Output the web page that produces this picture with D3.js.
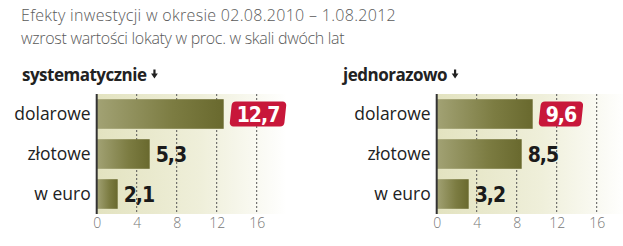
<!DOCTYPE html>
<html><head><meta charset="utf-8">
<script src="https://cdn.jsdelivr.net/npm/d3@7"></script>
<style>
body{margin:0;background:#fff;}
svg{display:block;}
</style></head>
<body>
<svg id="c" width="623" height="246"></svg>
<script>
const titleLines = ["Efekty inwestycji w okresie 02.08.2010 \u2013 1.08.2012", "wzrost warto\u015bci lokaty w proc. w skali dw\u00f3ch lat"];
const categories = ["dolarowe", "z\u0142otowe", "w euro"];
const panelTitles = ["systematycznie", "jednorazowo"];
const systematyczne = [12.7, 5.3, 2.1];
const jednorazowo = [9.6, 8.5, 3.2];
const tickValues = [0, 4, 8, 12, 16];
const seriesList = [systematyczne, jednorazowo];

const svg = d3.select("#c");
const defs = svg.append("defs");
const bg = defs.append("linearGradient").attr("id","bg").attr("x1","0").attr("x2","1").attr("y1","0").attr("y2","0");
bg.append("stop").attr("offset","0").attr("stop-color","#e3e3c0");
bg.append("stop").attr("offset","0.55").attr("stop-color","#efefda");
bg.append("stop").attr("offset","1").attr("stop-color","#ffffff");
const fmt = v => d3.format(".1f")(v).replace(".", ",");
const numFont = "'DejaVu Sans Condensed', 'DejaVu Sans', sans-serif";

svg.selectAll("text.title").data(titleLines).join("text")
  .attr("x", 21).attr("y", (d,i)=>21 + i*23)
  .attr("font-family","'Open Sans', sans-serif").attr("font-weight",300)
  .attr("font-size",16).attr("fill","#5a5a5a").attr("letter-spacing",(d,i)=> i===0 ? "0.3" : "-0.3")
  .text(d=>d);

const panels = [{x0:96.7, tx:22}, {x0:436.7, tx:343}];
panels.forEach((p, pi) => {
  const data = seriesList[pi];
  const x = d3.scaleLinear().domain([0,16]).range([p.x0, p.x0+160]);
  const y = d3.scaleBand().domain(categories).range([94, 214]).paddingInner(0.26).paddingOuter(0.13);
  const g = svg.append("g");
  // panel title
  const t = g.append("text").attr("x", p.tx).attr("y", 80.5)
    .attr("font-family","'Open Sans', sans-serif").attr("font-weight",700)
    .attr("font-size",17).attr("fill","#222").attr("letter-spacing","-0.5")
    .text(panelTitles[pi]);
  const tw = t.node().getComputedTextLength();
  const tx = p.tx + tw + 8;
  g.append("path").attr("d", `M${tx-1.1},69.5 L${tx+1.1},69.5 L${tx+1.1},73.5 L${tx+3.4},73.5 L${tx},78.5 L${tx-3.4},73.5 L${tx-1.1},73.5 Z`).attr("fill","#222");
  // background
  g.append("rect").attr("x", x(0)).attr("y", 94).attr("width", 190).attr("height", 120).attr("fill","url(#bg)");
  // grid
  g.selectAll("line.grid").data(tickValues.filter(d=>d>0)).join("line")
    .attr("x1", d=>x(d)).attr("x2", d=>x(d)).attr("y1", 94).attr("y2", 214)
    .attr("stroke","#555").attr("stroke-width",1).attr("stroke-dasharray","2,2");
  // bars
  g.selectAll("rect.bar").data(data).join("rect")
    .attr("x", x(0)).attr("y", (d,i)=>y(categories[i]))
    .attr("width", d=>x(d)-x(0)).attr("height", y.bandwidth())
    .attr("fill", (d,i)=>{
      const id = `bar${pi}_${i}`;
      const lg = defs.append("linearGradient").attr("id", id).attr("x1","0").attr("x2","1").attr("y1","0").attr("y2","0");
      lg.append("stop").attr("offset","0").attr("stop-color","#a2a274");
      lg.append("stop").attr("offset","0.6").attr("stop-color","#7c7c42");
      lg.append("stop").attr("offset","1").attr("stop-color","#69692e");
      return `url(#${id})`;
    });
  // axis line
  g.append("line").attr("x1", x(0)).attr("x2", x(0)).attr("y1", 94).attr("y2", 214)
    .attr("stroke","#333").attr("stroke-width",2);
  // category labels
  g.selectAll("text.cat").data(categories).join("text")
    .attr("x", x(0) - 6).attr("y", d=>y(d)+y.bandwidth()/2).attr("dy","0.35em")
    .attr("text-anchor","end").attr("font-family","'Open Sans', sans-serif")
    .attr("font-size",17.5).attr("fill","#222").text(d=>d);
  // tick labels via axis
  const ax = g.append("g").attr("transform","translate(0,214)")
    .call(d3.axisBottom(x).tickValues(tickValues).tickSize(0).tickPadding(4));
  ax.select(".domain").remove();
  ax.selectAll("text").attr("font-family","'Open Sans', sans-serif").attr("font-weight",300)
    .attr("font-size",14).attr("fill","#777").attr("dy","0.72em");
  // value labels
  data.forEach((v,i)=>{
    const yy = y(categories[i]) + y.bandwidth()/2;
    if (i===0) {
      const bx = x(v) + 7;
      const lbl = g.append("text").attr("x", 0).attr("y", 0)
        .attr("font-family",numFont).attr("font-weight",700)
        .attr("font-size",21).attr("letter-spacing","-1").attr("fill","#fff").text(fmt(v));
      const w = lbl.node().getComputedTextLength();
      const bw = w + 12;
      const sk = Math.tan(6*Math.PI/180);
      g.insert("rect", function(){return lbl.node();})
        .attr("x", bx).attr("y", yy-12.5).attr("width", bw).attr("height", 25).attr("rx",4)
        .attr("fill","#c8173a").attr("transform", `translate(${yy*sk},0) skewX(-6)`);
      lbl.attr("x", bx + bw/2).attr("y", yy).attr("dy","0.36em").attr("text-anchor","middle");
    } else {
      g.append("text").attr("x", x(v) + 6).attr("y", yy).attr("dy","0.36em")
        .attr("font-family",numFont).attr("font-weight",700)
        .attr("font-size",21).attr("letter-spacing","-1").attr("fill","#1a1a1a").text(fmt(v));
    }
  });
});
</script>
</body></html>
